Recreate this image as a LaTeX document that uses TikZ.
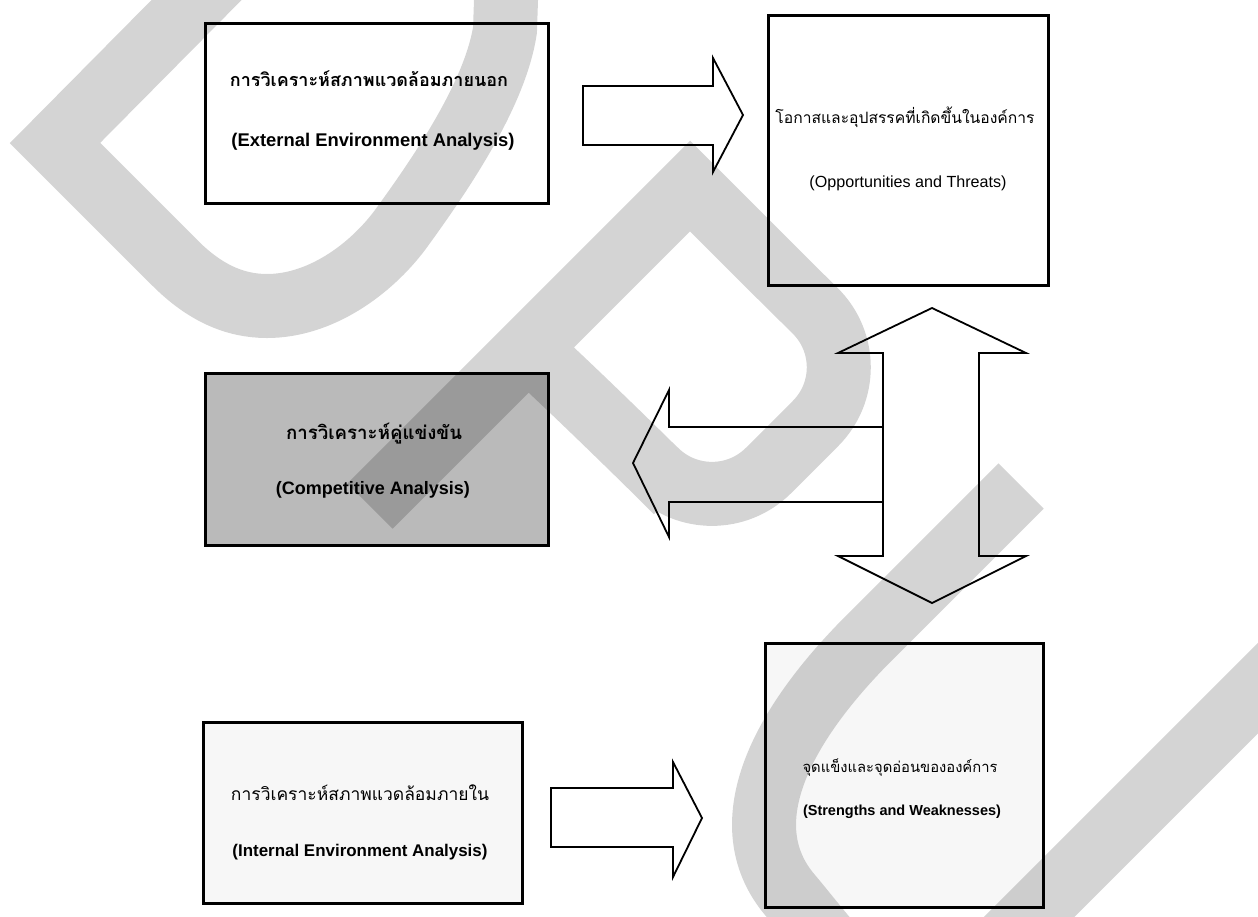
\documentclass[tikz,border=0pt]{standalone}
\usepackage{fontspec}
\usepackage{graphicx}
\setmainfont{Liberation Sans}
\newfontfamily\thai[Script=Thai]{Loma}
\newcommand{\fitto}[2]{\resizebox{#1}{!}{#2}}
\begin{document}
\begin{tikzpicture}[x=1pt, y=-1pt,
  box/.style={draw=black, line width=3pt, inner sep=0pt},
  plainbox/.style={box, fill=white},
  shadebox/.style={box, fill=black!27},
  blockarrow/.style={draw=black, line width=1.8pt, fill=white, line join=miter},
  lbl/.style={inner sep=0pt, anchor=center, text=black},
  wmark/.style={line width=64pt, draw=black, draw opacity=0.17, line join=miter, miter limit=10},
]
\useasboundingbox (0,0) rectangle (1258,916);
\fill[white] (0,0) rectangle (1258,916);

% ---- boxes ----
\node[plainbox, minimum width=343pt, minimum height=180pt] (ext) at (376.5,113.5) {};
\node[plainbox, minimum width=280pt, minimum height=270pt] (ot)  at (908,150) {};
\node[shadebox, minimum width=343pt, minimum height=172pt] (comp) at (376.5,459) {};
\node[plainbox, fill=black!3, minimum width=319pt, minimum height=181pt] (int) at (362.5,812.5) {};
\node[plainbox, fill=black!3, minimum width=278pt, minimum height=264pt] (sw) at (904,775) {};

% ---- labels ----
\node[lbl] (extTh) at (369,79)  {\fitto{278pt}{\thai\bfseries การวิเคราะห์สภาพแวดล้อมภายนอก}};
\node[lbl] (extEn) at (373,142) {\fitto{283pt}{\bfseries (External Environment Analysis)}};
\node[lbl] (otTh)  at (905,117) {\fitto{259pt}{\thai โอกาสและอุปสรรคที่เกิดขึ้นในองค์การ}};
\node[lbl] (otEn)  at (908,183) {\fitto{197pt}{(Opportunities and Threats)}};
\node[lbl] (compTh) at (374,434) {\fitto{176pt}{\thai\bfseries การวิเคราะห์คู่แข่งขัน}};
\node[lbl] (compEn) at (373,490) {\fitto{194pt}{\bfseries (Competitive Analysis)}};
\node[lbl] (intTh) at (360,793) {\fitto{258pt}{\thai การวิเคราะห์สภาพแวดล้อมภายใน}};
\node[lbl] (intEn) at (360,852) {\fitto{255pt}{\bfseries (Internal Environment Analysis)}};
\node[lbl] (swTh)  at (900,768) {\fitto{195pt}{\thai จุดแข็งและจุดอ่อนขององค์การ}};
\node[lbl] (swEn)  at (902,812) {\fitto{198pt}{\bfseries (Strengths and Weaknesses)}};

% ---- block arrows ----
\draw[blockarrow] (583,86) -- (713,86) -- (713,58) -- (743,115) -- (713,172) -- (713,145) -- (583,145) -- cycle;
\draw[blockarrow] (551,788) -- (673,788) -- (673,762) -- (702,818) -- (673,877) -- (673,847) -- (551,847) -- cycle;
\filldraw[blockarrow] (883,427) -- (669,427) -- (669,390) -- (633,463) -- (669,537) -- (669,502) -- (883,502);
\draw[blockarrow] (883,353) -- (838,353) -- (932,308) -- (1026,353) -- (979,353) -- (979,556)
  -- (1026,556) -- (932,603) -- (838,556) -- (883,556) -- cycle;

% ---- watermark letters D, P, U ----
\begin{scope}
\clip (0,0) rectangle (1258,916);
\draw[wmark] (252,-56) -- (55,143) -- (175,263) .. controls (205,293) and (235,306) .. (267,306)
  .. controls (320,306) and (370,270) .. (400,230) .. controls (440,175) and (495,95) .. (505,30) -- (508,-60);
\draw[wmark] (370,506) -- (690,186) -- (780,276) [rounded corners=80pt] -- (872,367) -- (712,527)
  -- (620,435) [sharp corners] -- (528,348);
\draw[wmark] (1021,486) -- (870,637) .. controls (770,737) and (735,830) .. (790,895)
  .. controls (835,948) and (900,1046) .. (960,986) -- (1316,630);
\end{scope}
\end{tikzpicture}
\end{document}
